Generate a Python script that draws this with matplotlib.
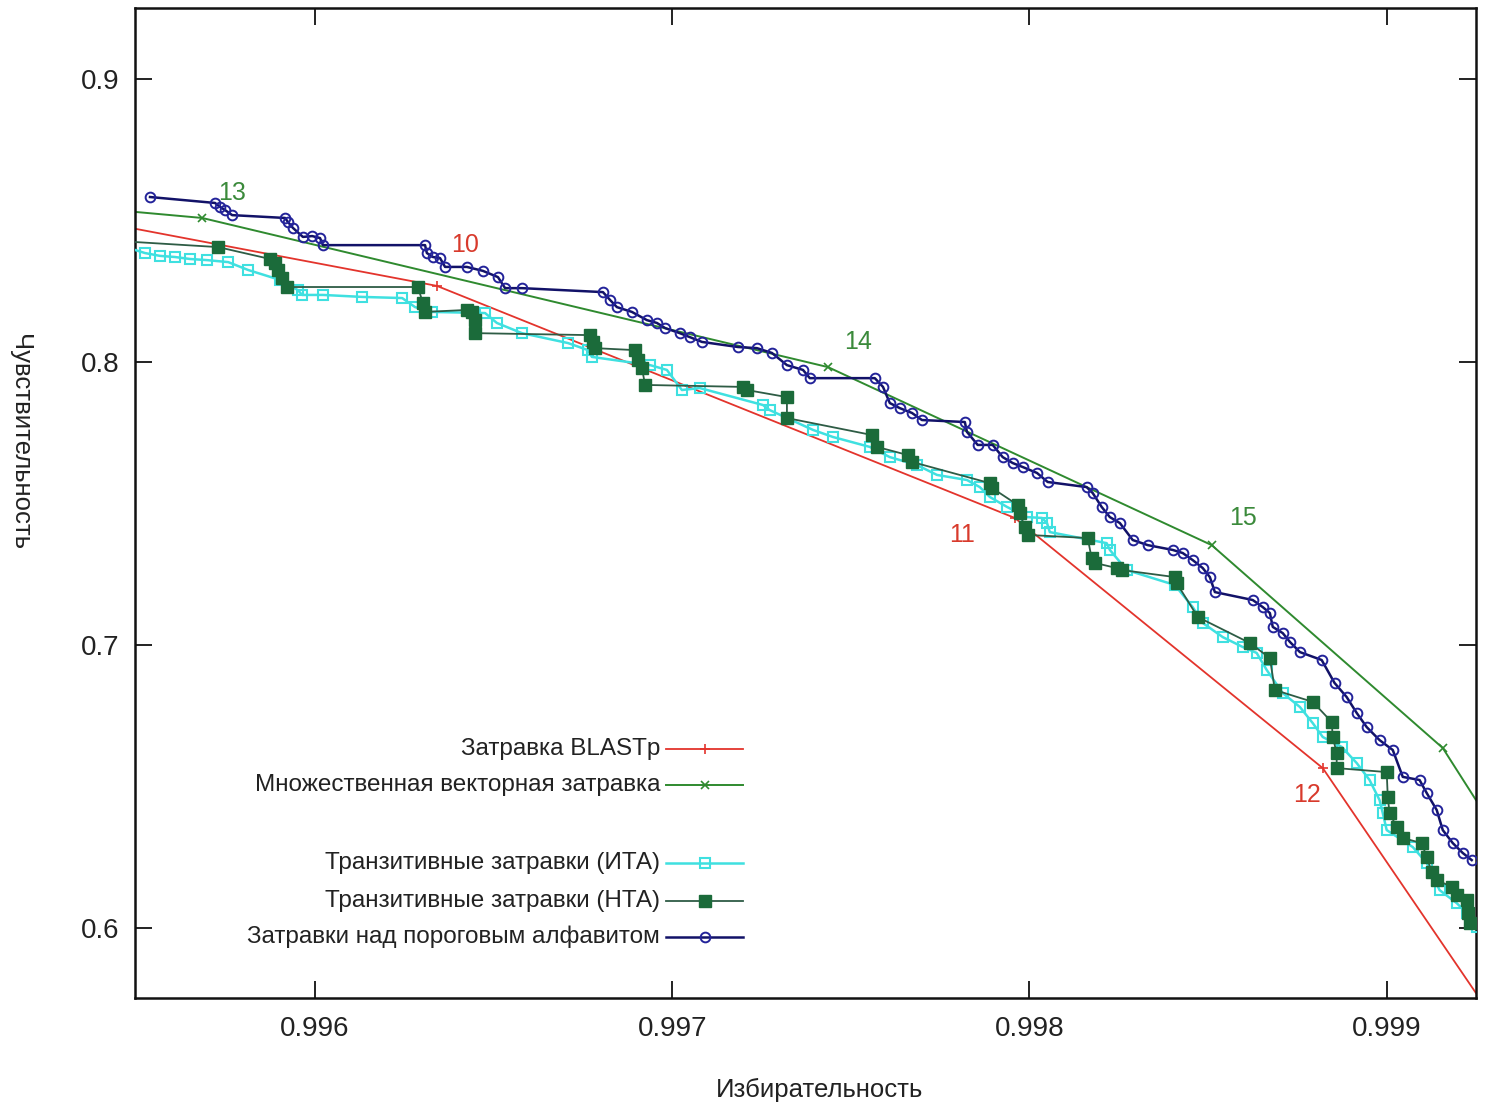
import matplotlib
matplotlib.use("Agg")
import matplotlib.pyplot as plt

plt.rcParams['font.family'] = ['Liberation Sans', 'DejaVu Sans']

# ---- data ----
blast_x = [0.995500, 0.996341, 0.997959, 0.998821, 0.999250]
blast_y = [0.8470, 0.8269, 0.7449, 0.6565, 0.5770]

mvs_x = [0.995500, 0.995684, 0.997436, 0.998510, 0.999157, 0.999250]
mvs_y = [0.8530, 0.8509, 0.7982, 0.7353, 0.6636, 0.6452]

ita_x = [0.995496, 0.995524, 0.995566, 0.995608, 0.995650, 0.995698, 0.995757, 0.995813,
         0.995902, 0.995952, 0.995964, 0.996022, 0.996132, 0.996244, 0.996280, 0.996327,
         0.996476, 0.996509, 0.996579, 0.996708, 0.996764, 0.996775, 0.996938, 0.996985,
         0.997027, 0.997077, 0.997254, 0.997273, 0.997394, 0.997450, 0.997553, 0.997609,
         0.997685, 0.997741, 0.997825, 0.997861, 0.997889, 0.997937, 0.997993, 0.998035,
         0.998049, 0.998057, 0.998216, 0.998225, 0.998272, 0.998407, 0.998457, 0.998485,
         0.998541, 0.998597, 0.998636, 0.998664, 0.998709, 0.998757, 0.998793, 0.998821,
         0.998874, 0.998916, 0.998952, 0.998980, 0.998989, 0.999000, 0.999073, 0.999112,
         0.999148, 0.999196, 0.999224, 0.999252]
ita_y = [0.8396, 0.8385, 0.8375, 0.8371, 0.8364, 0.8360, 0.8353, 0.8325,
         0.8290, 0.8254, 0.8237, 0.8237, 0.8230, 0.8226, 0.8194, 0.8177,
         0.8173, 0.8138, 0.8102, 0.8067, 0.8042, 0.8018, 0.7989, 0.7972,
         0.7901, 0.7908, 0.7848, 0.7830, 0.7760, 0.7735, 0.7700, 0.7664,
         0.7636, 0.7601, 0.7583, 0.7558, 0.7523, 0.7488, 0.7452, 0.7449,
         0.7431, 0.7399, 0.7360, 0.7336, 0.7265, 0.7212, 0.7134, 0.7078,
         0.7028, 0.6993, 0.6972, 0.6912, 0.6830, 0.6781, 0.6724, 0.6675,
         0.6640, 0.6583, 0.6523, 0.6452, 0.6406, 0.6346, 0.6286, 0.6230,
         0.6134, 0.6088, 0.6053, 0.6003]

nta_x = [0.995496, 0.995729, 0.995874, 0.995888, 0.995896, 0.995908, 0.995922, 0.996288,
         0.996302, 0.996308, 0.996425, 0.996439, 0.996448, 0.996448, 0.996770, 0.996778,
         0.996784, 0.996896, 0.996904, 0.996915, 0.996924, 0.997198, 0.997209, 0.997321,
         0.997321, 0.997559, 0.997573, 0.997660, 0.997671, 0.997889, 0.997895, 0.997967,
         0.997973, 0.997987, 0.997995, 0.998163, 0.998174, 0.998183, 0.998244, 0.998258,
         0.998407, 0.998412, 0.998471, 0.998617, 0.998673, 0.998687, 0.998793, 0.998846,
         0.998849, 0.998860, 0.998860, 0.999000, 0.999003, 0.999008, 0.999028, 0.999045,
         0.999098, 0.999112, 0.999126, 0.999140, 0.999182, 0.999196, 0.999224, 0.999227,
         0.999232]
nta_y = [0.8424, 0.8406, 0.8364, 0.8350, 0.8325, 0.8297, 0.8265, 0.8265,
         0.8208, 0.8177, 0.8184, 0.8177, 0.8148, 0.8102, 0.8095, 0.8071,
         0.8049, 0.8042, 0.8007, 0.7979, 0.7919, 0.7912, 0.7901, 0.7876,
         0.7802, 0.7742, 0.7700, 0.7671, 0.7647, 0.7572, 0.7555, 0.7495,
         0.7466, 0.7417, 0.7389, 0.7378, 0.7307, 0.7290, 0.7272, 0.7265,
         0.7240, 0.7219, 0.7099, 0.7007, 0.6954, 0.6841, 0.6799, 0.6728,
         0.6675, 0.6618, 0.6565, 0.6551, 0.6463, 0.6406, 0.6357, 0.6318,
         0.6300, 0.6251, 0.6198, 0.6170, 0.6145, 0.6117, 0.6099, 0.6053,
         0.6018]

thr_x = [0.995538, 0.995720, 0.995734, 0.995748, 0.995768, 0.995916, 0.995924, 0.995938,
         0.995966, 0.995992, 0.996014, 0.996022, 0.996308, 0.996313, 0.996330, 0.996350,
         0.996364, 0.996425, 0.996470, 0.996512, 0.996532, 0.996579, 0.996806, 0.996826,
         0.996845, 0.996887, 0.996929, 0.996957, 0.996980, 0.997021, 0.997049, 0.997083,
         0.997184, 0.997237, 0.997279, 0.997321, 0.997366, 0.997385, 0.997567, 0.997590,
         0.997609, 0.997637, 0.997671, 0.997699, 0.997819, 0.997825, 0.997855, 0.997897,
         0.997925, 0.997953, 0.997981, 0.998021, 0.998051, 0.998160, 0.998177, 0.998202,
         0.998225, 0.998253, 0.998289, 0.998331, 0.998401, 0.998429, 0.998457, 0.998485,
         0.998505, 0.998519, 0.998625, 0.998653, 0.998673, 0.998681, 0.998709, 0.998729,
         0.998757, 0.998818, 0.998854, 0.998888, 0.998916, 0.998944, 0.998980, 0.999017,
         0.999045, 0.999092, 0.999112, 0.999140, 0.999157, 0.999185, 0.999213, 0.999238]
thr_y = [0.8583, 0.8562, 0.8548, 0.8537, 0.8519, 0.8509, 0.8495, 0.8474,
         0.8442, 0.8445, 0.8438, 0.8413, 0.8413, 0.8385, 0.8371, 0.8367,
         0.8336, 0.8336, 0.8322, 0.8300, 0.8261, 0.8261, 0.8247, 0.8219,
         0.8194, 0.8177, 0.8148, 0.8138, 0.8120, 0.8102, 0.8088, 0.8071,
         0.8053, 0.8049, 0.8032, 0.7989, 0.7972, 0.7943, 0.7943, 0.7912,
         0.7855, 0.7837, 0.7820, 0.7795, 0.7788, 0.7753, 0.7707, 0.7707,
         0.7664, 0.7643, 0.7629, 0.7608, 0.7576, 0.7558, 0.7537, 0.7488,
         0.7452, 0.7431, 0.7371, 0.7353, 0.7336, 0.7325, 0.7300, 0.7272,
         0.7240, 0.7187, 0.7159, 0.7134, 0.7113, 0.7064, 0.7042, 0.7011,
         0.6975, 0.6947, 0.6866, 0.6816, 0.6760, 0.6710, 0.6664, 0.6629,
         0.6534, 0.6523, 0.6477, 0.6417, 0.6346, 0.6300, 0.6265, 0.6240]

# point labels (seed weights)
blast_lbl = ['10', '11', '12']
blast_lbl_x = [0.996420, 0.997811, 0.998776]
blast_lbl_y = [0.8413, 0.7389, 0.6470]
mvs_lbl = ['13', '14', '15']
mvs_lbl_x = [0.995768, 0.997520, 0.998597]
mvs_lbl_y = [0.8597, 0.8071, 0.7449]

xticks = [0.996, 0.997, 0.998, 0.999]
yticks = [0.6, 0.7, 0.8, 0.9]

legend_labels = ['Затравка BLASTp', 'Множественная векторная затравка',
                 'Транзитивные затравки (ИТА)', 'Транзитивные затравки (НТА)',
                 'Затравки над пороговым алфавитом']

# ---- styles ----
c_red = '#e3342c'
c_mvs = '#2f8a2f'
c_ita = '#3fe0e0'
c_nta_m = '#1b6b3a'
c_nta_l = '#2e5c45'
c_thr_m = '#23239a'
c_thr_l = '#121268'

fig = plt.figure(figsize=(14.88, 11.09), dpi=100)
ax = fig.add_axes([135/1488, 1 - 998/1109, (1476-135)/1488, (998-8)/1109])

ax.plot(blast_x, blast_y, color=c_red, lw=1.3, marker='+', ms=7, mew=1.2,
        markevery=slice(1, -1), zorder=2)
ax.plot(mvs_x, mvs_y, color=c_mvs, lw=1.4, marker='x', ms=6, mew=1.2,
        markevery=slice(1, -1), zorder=2)
ax.plot(ita_x, ita_y, color=c_ita, lw=1.8, marker='s', ms=7, mfc='none',
        mec=c_ita, mew=1.5, markevery=slice(1, None), zorder=3)
ax.plot(nta_x, nta_y, color=c_nta_l, lw=1.3, marker='s', ms=8.5, mfc=c_nta_m,
        mec=c_nta_m, markevery=slice(1, None), zorder=4)
ax.plot(thr_x, thr_y, color=c_thr_l, lw=1.8, marker='o', ms=7, mfc='none',
        mec=c_thr_m, mew=1.4, zorder=5)

for t, x, y in zip(blast_lbl, blast_lbl_x, blast_lbl_y):
    ax.text(x, y, t, color='#d83a2c', fontsize=18, ha='center', va='center', zorder=6)
for t, x, y in zip(mvs_lbl, mvs_lbl_x, mvs_lbl_y):
    ax.text(x, y, t, color='#3b8a3b', fontsize=18, ha='center', va='center', zorder=6)

ax.set_xlim(0.995496, 0.999250)
ax.set_ylim(0.57527, 0.92509)
ax.set_xticks(xticks)
ax.set_xticklabels([f'{v:.3f}' for v in xticks])
ax.set_yticks(yticks)
ax.set_yticklabels([f'{v:.1f}' for v in yticks])
ax.tick_params(direction='in', length=12, width=1.4, top=True, right=True,
               labelsize=20, colors='#222222')
ax.tick_params(axis='x', pad=13)
ax.tick_params(axis='y', pad=11)
for s in ax.spines.values():
    s.set_linewidth(1.8)
    s.set_color('#111111')

ax.set_xlabel('Избирательность', fontsize=18.5, color='#222222', va='center')
ax.xaxis.set_label_coords((820-135)/1341, (998-1090)/990)
ax.set_ylabel('Чувствительность', fontsize=18.5, color='#222222', rotation=270,
              va='center')
ax.yaxis.set_label_coords((20-135)/1341, (998-442)/990)

# ---- manual legend (gnuplot style: right-aligned text, sample to the right) ----
leg_y = [0.2515, 0.2152, 0.1364, 0.0980, 0.0616]
leg_styles = [
    dict(color=c_red, lw=1.3, marker='+', ms=7, mew=1.2),
    dict(color=c_mvs, lw=1.4, marker='x', ms=6, mew=1.2),
    dict(color=c_ita, lw=1.8, marker='s', ms=7, mfc='none', mec=c_ita, mew=1.5),
    dict(color=c_nta_l, lw=1.3, marker='s', ms=8.5, mfc=c_nta_m, mec=c_nta_m),
    dict(color=c_thr_l, lw=1.8, marker='o', ms=7, mfc='none', mec=c_thr_m, mew=1.4),
]
for lab, yy, st in zip(legend_labels, leg_y, leg_styles):
    ax.text(0.3915, yy, lab, transform=ax.transAxes, ha='right', va='center',
            fontsize=17.5, color='#222222')
    ax.plot([0.3960, 0.4250, 0.4534], [yy, yy, yy], transform=ax.transAxes,
            markevery=[1], clip_on=False, **st)

fig.savefig('out.png', dpi=100)
